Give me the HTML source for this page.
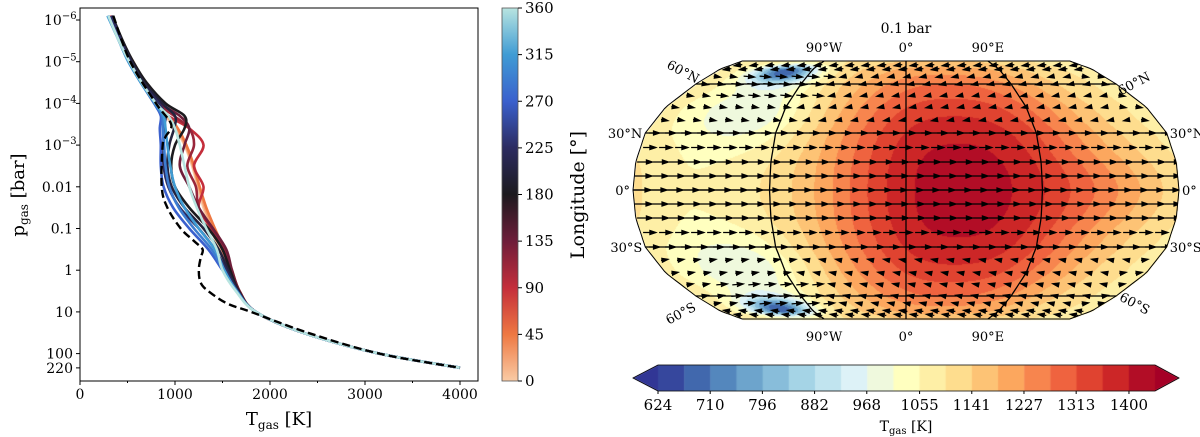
<!DOCTYPE html>
<html><head><meta charset="utf-8">
<style>
html,body{margin:0;padding:0;background:#fff;}
#wrap{position:relative;width:1200px;height:437px;overflow:hidden;font-family:"DejaVu Serif","Liberation Serif",serif;}
svg{position:absolute;left:0;top:0;}
canvas{position:absolute;left:0;top:0;}
</style></head>
<body>
<div id="wrap">
<canvas id="map" width="1200" height="437"></canvas>
<svg id="s" width="1200" height="437" xmlns="http://www.w3.org/2000/svg"></svg>
</div>
<script>
// ---------- Left chart data ----------
const logP = [-6.1,-5.5,-5,-4.5,-4,-3.7,-3.4,-3,-2.5,-2,-1.5,-1,-0.5,0,0.5,1,1.5,2,2.34];
const profLon = [0,22,45,90,112,135,180,202,225,270,292,315,360];
const profT = [
 [300,420,540,650,780,900,1000,1100,1180,1240,1300,1380,1470,1560,1650,1850,2350,3150,4000],
 [300,425,550,665,800,915,1015,1110,1190,1250,1315,1400,1495,1580,1665,1850,2350,3150,4000],
 [310,430,560,680,820,930,1030,1120,1200,1260,1330,1420,1520,1600,1680,1850,2350,3150,4000],
 [320,430,540,660,800,930,1150,1300,1200,1300,1250,1380,1500,1580,1670,1850,2350,3150,4000],
 [325,435,540,670,825,990,1150,1200,1130,1220,1250,1390,1520,1590,1675,1850,2350,3150,4000],
 [330,440,540,680,850,1050,1150,1100,1050,1150,1250,1400,1540,1600,1680,1850,2350,3150,4000],
 [340,450,560,700,900,1100,1100,1000,960,1000,1150,1350,1500,1580,1670,1850,2350,3150,4000],
 [335,440,545,675,865,1000,990,940,920,965,1100,1300,1460,1560,1665,1850,2350,3150,4000],
 [330,430,530,650,830,900,880,880,880,930,1050,1250,1420,1540,1660,1850,2350,3150,4000],
 [300,410,510,640,780,850,840,850,850,880,980,1150,1350,1500,1650,1850,2350,3150,4000],
 [295,410,510,640,785,865,870,885,900,940,1040,1200,1385,1510,1650,1850,2350,3150,4000],
 [290,410,510,640,790,880,900,920,950,1000,1100,1250,1420,1520,1650,1850,2350,3150,4000],
 [300,410,520,650,800,930,1000,1050,1100,1150,1230,1330,1440,1500,1640,1850,2350,3150,4000]
];
const dashLogP = [-6.1,-5,-4,-3.5,-3.2,-3,-2,-1.5,-1,-0.7,-0.5,-0.3,0,0.3,0.5,0.8,1,1.5,2,2.34];
const dashT = [350,530,800,960,900,870,860,920,1060,1200,1290,1270,1250,1270,1350,1550,1800,2400,3150,4000];
const xTicks = [0,1000,2000,3000,4000];
const yTicks = [-6,-5,-4,-3,-2,-1,0,1,2,Math.log10(220)];
const yTickLabels = ["10^-6","10^-5","10^-4","10^-3","0.01","0.1","1","10","100","220"];
const cbTicks = [0,45,90,135,180,225,270,315,360];
// ---------- Map data ----------
const mapLevelTicks = [624,710,796,882,968,1055,1141,1227,1313,1400];
const blobLon = [35,140,-150,-115,-115,-120,-120];
const blobLat = [0,0,0,42,72,-42,-72];
const blobAmp = [340,70,-30,-110,-400,-110,-400];
const blobWLon = [90,50,40,45,28,45,28];
const blobWLat = [75,22,25,20,11,20,11];
const blobPow = [2.5,2,2,2,2,2,2];
const baseT = 1080;

const NS='http://www.w3.org/2000/svg';
const S=document.getElementById('s');
function sq(v){return v*v;}
function el(t,a,p){const e=document.createElementNS(NS,t);for(const k in a)e.setAttribute(k,a[k]);(p||S).appendChild(e);return e;}
function txt(x,y,s,a,p){const e=el('text',Object.assign({x:x,y:y,'font-size':14,fill:'#000'},a||{}),p);e.textContent=s;return e;}

// left axes
const AX={l:80,r:478,t:8,b:381};
const X=t=>AX.l+t*95/1000;
const Y=lp=>20+(lp+6)*41.7;
function lonColor(v){
 const st=[[0,[249,203,165]],[45,[238,120,66]],[90,[196,46,59]],[135,[110,30,58]],[180,[28,26,30]],[225,[44,44,96]],[270,[58,96,205]],[315,[64,156,212]],[360,[184,228,224]]];
 for(let i=0;i<st.length-1;i++){if(v<=st[i+1][0]){const f=(v-st[i][0])/(st[i+1][0]-st[i][0]);const c=st[i][1].map((c0,j)=>Math.round(c0+f*(st[i+1][1][j]-c0)));return 'rgb('+c+')';}}
 return 'rgb(184,228,224)';
}
function smooth(pts){let d='M'+pts[0][0].toFixed(1)+','+pts[0][1].toFixed(1);
 for(let i=0;i<pts.length-1;i++){const p0=pts[Math.max(0,i-1)],p1=pts[i],p2=pts[i+1],p3=pts[Math.min(pts.length-1,i+2)];
  const c1=[p1[0]+(p2[0]-p0[0])/6,p1[1]+(p2[1]-p0[1])/6],c2=[p2[0]-(p3[0]-p1[0])/6,p2[1]-(p3[1]-p1[1])/6];
  d+='C'+c1[0].toFixed(1)+','+c1[1].toFixed(1)+' '+c2[0].toFixed(1)+','+c2[1].toFixed(1)+' '+p2[0].toFixed(1)+','+p2[1].toFixed(1);}
 return d;}
const cp=el('clipPath',{id:'cl'});el('rect',{x:AX.l,y:AX.t,width:AX.r-AX.l,height:AX.b-AX.t},cp);
const gl=el('g',{'clip-path':'url(#cl)'});
profT.forEach((arr,i)=>{
 const d=smooth(arr.map((t,j)=>[X(t),Y(logP[j])]));
 const p=el('path',{d:d,fill:'none',stroke:lonColor(profLon[i]),'stroke-width':2.6,'stroke-linejoin':'round'},gl);
 
 
});
{
 const d=smooth(dashT.map((t,j)=>[X(t),Y(dashLogP[j])]));
 const p=el('path',{d:d,fill:'none',stroke:'#000','stroke-width':2.4,'stroke-dasharray':'8,4'},gl);
 
 
}
el('rect',{x:AX.l,y:AX.t,width:AX.r-AX.l,height:AX.b-AX.t,fill:'none',stroke:'#000','stroke-width':1,});
xTicks.forEach(t=>{el('line',{x1:X(t),x2:X(t),y1:AX.b,y2:AX.b+4,stroke:'#000'});
 const e=txt(X(t),AX.b+18,String(t),{'text-anchor':'middle'});});
[500,1500,2500,3500].forEach(t=>el('line',{x1:X(t),x2:X(t),y1:AX.b,y2:AX.b+2,stroke:'#000'}));
yTicks.forEach((lp,i)=>{el('line',{x1:AX.l-4,x2:AX.l,y1:Y(lp),y2:Y(lp),stroke:'#000'});
 const s=yTickLabels[i];let e;
 if(s.indexOf('^')>0){e=txt(AX.l-36,Y(lp)+5,'10',{'text-anchor':'start'});const sp=el('tspan',{dy:-6,'font-size':10},e);sp.textContent=s.split('^')[1].replace('-','\u2212');}
 else e=txt(AX.l-7,Y(lp)+5,s,{'text-anchor':'end'});
 });
{const e=txt(0,0,'p',{'font-size':18,transform:'translate(24,195) rotate(-90)','text-anchor':'middle'});const s1=el('tspan',{'font-size':12,dy:4},e);s1.textContent='gas';const s2=el('tspan',{dy:-4},e);s2.textContent=' [bar]';}
{const e=txt(279,425,'T',{'font-size':18,'text-anchor':'middle'});const s1=el('tspan',{'font-size':12,dy:4},e);s1.textContent='gas';const s2=el('tspan',{dy:-4},e);s2.textContent=' [K]';}
// longitude colorbar
{const g=el('linearGradient',{id:'lg',x1:0,y1:1,x2:0,y2:0});
 for(let v=0;v<=360;v+=15)el('stop',{offset:(v/360),'stop-color':lonColor(v)},g);
 el('rect',{x:502,y:8,width:16,height:373,fill:'url(#lg)',stroke:'#555','stroke-width':0.8,});
 cbTicks.forEach(v=>{const y=381-v/360*373;el('line',{x1:518,x2:522,y1:y,y2:y,stroke:'#000'});
  const e=txt(525,y+5,String(v),{'font-size':15});});
 const e=txt(0,0,'Longitude [°]',{'font-size':19,transform:'translate(584,195) rotate(-90)','text-anchor':'middle'});
 }

// ---------- Map ----------
const CX=906,CY=190;
const latT=[0,15,30,45,60,75,90], hwF=[1,0.99,0.955,0.88,0.77,0.68,0.6], yOff=[0,28,57,83,106,121,129];
const HW=273;
function interp(xs,ys,v){for(let i=0;i<xs.length-1;i++)if(v<=xs[i+1]){const f=(v-xs[i])/(xs[i+1]-xs[i]);return ys[i]+f*(ys[i+1]-ys[i]);}return ys[ys.length-1];}
function proj(lon,lat){const a=Math.abs(lat);return [CX+lon/180*HW*interp(latT,hwF,a), CY-Math.sign(lat)*interp(latT,yOff,a)];}
function invLat(dy){const a=Math.abs(dy);if(a>129)return null;return Math.sign(-dy)*interp(yOff,latT,a);}
function field(lon,lat){let T=baseT;for(let i=0;i<blobLon.length;i++){let dl=lon-blobLon[i];if(dl>180)dl-=360;if(dl<-180)dl+=360;const pw=blobPow[i];T+=blobAmp[i]*Math.exp(-Math.pow(Math.abs(dl/blobWLon[i]),pw)-Math.pow(Math.abs((lat-blobLat[i])/blobWLat[i]),pw));}return T;}
const anchors=[[49,54,149],[69,117,180],[116,173,209],[171,217,233],[224,243,248],[255,255,191],[254,224,144],[253,174,97],[244,109,67],[215,48,39],[165,0,38]];
function cmap(f){f=Math.max(0,Math.min(1,f))*10;const i=Math.min(9,Math.floor(f)),r=f-i;return anchors[i].map((c,j)=>Math.round(c+r*(anchors[i+1][j]-c)));}
const step=43.1, nLev=19, tMin=624;
function levColor(T){let k=Math.floor((T-tMin)/step);if(k<0)return anchors[0];if(k>=nLev)return anchors[10];return cmap((k+0.5)/nLev);}
const ctx=document.getElementById('map').getContext('2d');
const img=ctx.createImageData(1200,437);
for(let y=58;y<=322;y++){const lat=invLat(y-CY);if(lat===null)continue;const hw=HW*interp(latT,hwF,Math.abs(lat));
 for(let x=620;x<1195;x++){const lon=(x-CX)/hw*180;if(Math.abs(lon)>180)continue;const c=levColor(field(lon,lat));const o=(y*1200+x)*4;img.data[o]=c[0];img.data[o+1]=c[1];img.data[o+2]=c[2];img.data[o+3]=255;}}
ctx.putImageData(img,0,0);
// colorbar
const cbL=658,cbR=1155,cbT=365,cbB=391,segW=(cbR-cbL)/nLev;
for(let k=0;k<nLev;k++){const c=cmap((k+0.5)/nLev);ctx.fillStyle='rgb('+c+')';ctx.fillRect(cbL+k*segW,cbT,segW+0.5,cbB-cbT);}
ctx.fillStyle='rgb('+anchors[0]+')';ctx.beginPath();ctx.moveTo(cbL,cbT);ctx.lineTo(633,(cbT+cbB)/2);ctx.lineTo(cbL,cbB);ctx.fill();
ctx.fillStyle='rgb('+anchors[10]+')';ctx.beginPath();ctx.moveTo(cbR,cbT);ctx.lineTo(1179,(cbT+cbB)/2);ctx.lineTo(cbR,cbB);ctx.fill();
el('path',{d:`M${cbL},${cbT}L${cbR},${cbT}L1179,${(cbT+cbB)/2}L${cbR},${cbB}L${cbL},${cbB}L633,${(cbT+cbB)/2}Z`,fill:'none',stroke:'#000','stroke-width':0.8,});
mapLevelTicks.forEach(v=>{const x=cbL+(v-tMin)/step*segW;el('line',{x1:x,x2:x,y1:cbB,y2:cbB+3,stroke:'#000'});
 const e=txt(x,410,String(v),{'text-anchor':'middle','font-size':15});});
{const e=txt(906,431,'T',{'font-size':14,'text-anchor':'middle'});const s1=el('tspan',{'font-size':10,dy:3},e);s1.textContent='gas';const s2=el('tspan',{dy:-3},e);s2.textContent=' [K]';}

// outline path
let od='';for(let la=90;la>=-90;la-=2){const p=proj(180,la);od+=(la==90?'M':'L')+p[0].toFixed(1)+','+p[1].toFixed(1);}
for(let la=-90;la<=90;la+=2){const p=proj(-180,la);od+='L'+p[0].toFixed(1)+','+p[1].toFixed(1);}od+='Z';
const mcp=el('clipPath',{id:'mapclip'});el('path',{d:od},mcp);
// arrows
const ga=el('g',{'clip-path':'url(#mapclip)'});
let ad='';
for(let lat=-82.5;lat<=82.6;lat+=7.5){const a=Math.abs(lat);const hw=HW*interp(latT,hwF,a);const dLon=16/hw*180;
 for(let lon=-180+dLon/2;lon<180;lon+=dLon){
  const pp=proj(lon,lat);const x=pp[0],y=pp[1];
  let u,v;
  if(a<32){u=12*Math.exp(-sq(lat/30))+4;v=0;}
  else{let dl=lon-40;if(dl>180)dl-=360;if(dl<-180)dl+=360;u=-4;v=0.8*Math.sign(lat);
   if(Math.abs(dl)>120)u=5;
   if(Math.abs(lon+110)<40&&a>45&&a<72){u=9;}
   if(a>72){u=-6;}}
  const L=Math.hypot(u,v)||1,ux=u/L,uy=v/L;const x0=x-u/2,y0=y-v/2,x2=x+u/2,y2=y+v/2;
  const hs=4,hw2=2;
  ad+=`M${x0.toFixed(1)},${y0.toFixed(1)}L${x2.toFixed(1)},${y2.toFixed(1)}`;
  ad+=`M${(x2+ux*2).toFixed(1)},${(y2+uy*2).toFixed(1)}L${(x2-ux*hs-uy*hw2).toFixed(1)},${(y2-uy*hs+ux*hw2).toFixed(1)}L${(x2-ux*hs+uy*hw2).toFixed(1)},${(y2-uy*hs-ux*hw2).toFixed(1)}Z`;
 }}
el('path',{d:ad,stroke:'#000','stroke-width':1.2,fill:'#000'},ga);
el('path',{d:od,fill:'none',stroke:'#000','stroke-width':1,});
let gd='';
[-90,0,90].forEach(lo=>{for(let la=90;la>=-90;la-=2){const p=proj(lo,la);gd+=(la==90?'M':'L')+p[0].toFixed(1)+','+p[1].toFixed(1);}});
[-60,-30,0,30,60].forEach(la=>{const a=proj(-180,la),b=proj(180,la);gd+=`M${a[0]},${a[1]}L${b[0]},${b[1]}`;});
el('path',{d:gd,fill:'none',stroke:'#000','stroke-width':1.3,});
// labels
txt(906,33,'0.1 bar',{'text-anchor':'middle','font-size':14});
[['90°W',-90],['0°',0],['90°E',90]].forEach(function(it){const s=it[0],lo=it[1];const x=CX+lo/180*HW*0.6;
 txt(x,52,s,{'text-anchor':'middle','font-size':13});
 txt(x,341,s,{'text-anchor':'middle','font-size':13});});
[['30°N',30],['0°',0],['30°S',-30]].forEach(function(it){const s=it[0],la=it[1];const p=proj(-180,la),q=proj(180,la);
 txt(p[0]-3,p[1]+5,s,{'text-anchor':'end','font-size':13});
 txt(q[0]+3,q[1]+5,s,{'font-size':13});});
txt(664,75,'60°N',{'font-size':13,transform:'rotate(28 680 75)'});
txt(1117,90,'60°N',{'font-size':13,transform:'rotate(-28 1130 85)'});
txt(664,318,'60°S',{'font-size':13,transform:'rotate(-28 680 312)'});
txt(1117,306,'60°S',{'font-size':13,transform:'rotate(28 1130 306)'});
</script>
</body></html>
